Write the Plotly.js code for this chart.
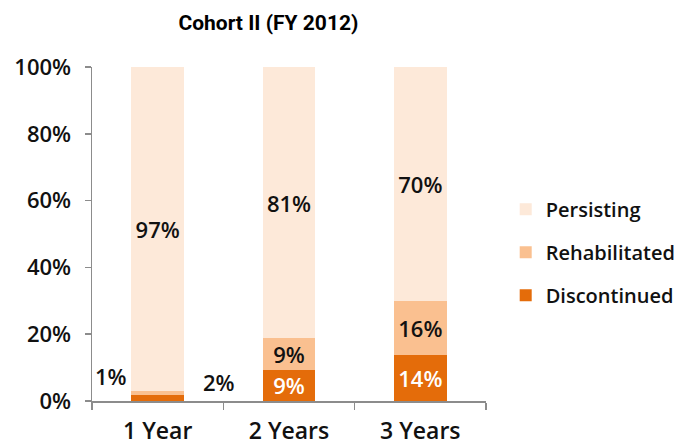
<!DOCTYPE html>
<html><head><meta charset="utf-8">
<script src="https://cdn.plot.ly/plotly-3.0.1.min.js"></script>
<style>html,body{margin:0;padding:0;background:#fff}#chart{width:683px;height:445px}</style>
</head><body><div id="chart"></div>
<script>
const categories = ["1 Year", "2 Years", "3 Years"];
const discontinued = [1.8, 9.4, 13.8];
const rehabilitated = [1.2, 9.4, 16.2];
const persisting = [97.0, 81.2, 70.0];
const yTickVals = [0, 20, 40, 60, 80, 100];
const yTickText = ["0%", "20%", "40%", "60%", "80%", "100%"];

const fontFam = "'Open Sans', 'DejaVu Sans', Arial, sans-serif";
const pct = v => Math.round(v) + "%";

function trace(name, vals, color, textColor, outsideIdx, rank) {
  return {
    type: "bar", name: name, x: categories, y: vals, legendgroup: name, legendrank: rank,
    marker: {color: color, line: {width: 0}},
    text: vals.map((v, i) => outsideIdx.includes(i) ? "" : pct(v)),
    textposition: "inside", insidetextanchor: "middle", textangle: 0, constraintext: "none",
    textfont: {family: fontFam, size: 22, color: textColor, weight: 600},
    hoverinfo: "skip", width: 0.4
  };
}

const data = [
  trace("Discontinued", discontinued, "#E46C0A", "#ffffff", [0], 3),
  trace("Rehabilitated", rehabilitated, "#FAC090", "#111111", [0], 2),
  trace("Persisting", persisting, "#FDE9D9", "#111111", [], 1)
];

const annotations = [
  {x: 0, y: rehabilitated[0], text: pct(rehabilitated[0]), xshift: -47, yshift: 21},
  {x: 0, y: discontinued[0], text: pct(discontinued[0]), xshift: 61, yshift: 13}
].map(a => Object.assign({xref: "x", yref: "y", showarrow: false,
  font: {family: fontFam, size: 22, color: "#111", weight: 600}}, a));

const layout = {
  width: 683, height: 445,
  margin: {l: 92, r: 197, t: 67, b: 44, autoexpand: false},
  paper_bgcolor: "#fff", plot_bgcolor: "#fff",
  barmode: "stack", bargap: 0.6,
  showlegend: true,
  title: {text: "<b>Cohort II (FY 2012)</b>", x: 0.393, xref: "container", y: 0.95, yanchor: "middle",
    font: {family: "Roboto, 'Liberation Sans', sans-serif", size: 21, color: "#000"}},
  xaxis: {range: [-0.5, 2.5], showline: true, linecolor: "#8c8c8c", linewidth: 1.5,
    ticks: "outside", tickson: "boundaries", ticklen: 7, tickcolor: "#8c8c8c", tickwidth: 1.5,
    ticklabelstandoff: 9,
    tickfont: {family: fontFam, size: 23, color: "#111", weight: 600}, showgrid: false, zeroline: false, fixedrange: true},
  yaxis: {range: [0, 100], tickvals: yTickVals, ticktext: yTickText, showline: true,
    linecolor: "#8c8c8c", linewidth: 1.5, ticks: "outside", ticklen: 6, tickcolor: "#8c8c8c", tickwidth: 1.5,
    ticklabelstandoff: 9,
    tickfont: {family: fontFam, size: 22, color: "#111", weight: 600}, showgrid: false, zeroline: false, fixedrange: true},
  legend: {x: 1.05, xanchor: "left", y: 0.445, yanchor: "middle", traceorder: "grouped",
    font: {family: fontFam, size: 20, color: "#111", weight: 600}, tracegroupgap: 14, itemwidth: 30},
  annotations: annotations
};

Plotly.newPlot("chart", data, layout, {displayModeBar: false, staticPlot: true});
</script></body></html>
